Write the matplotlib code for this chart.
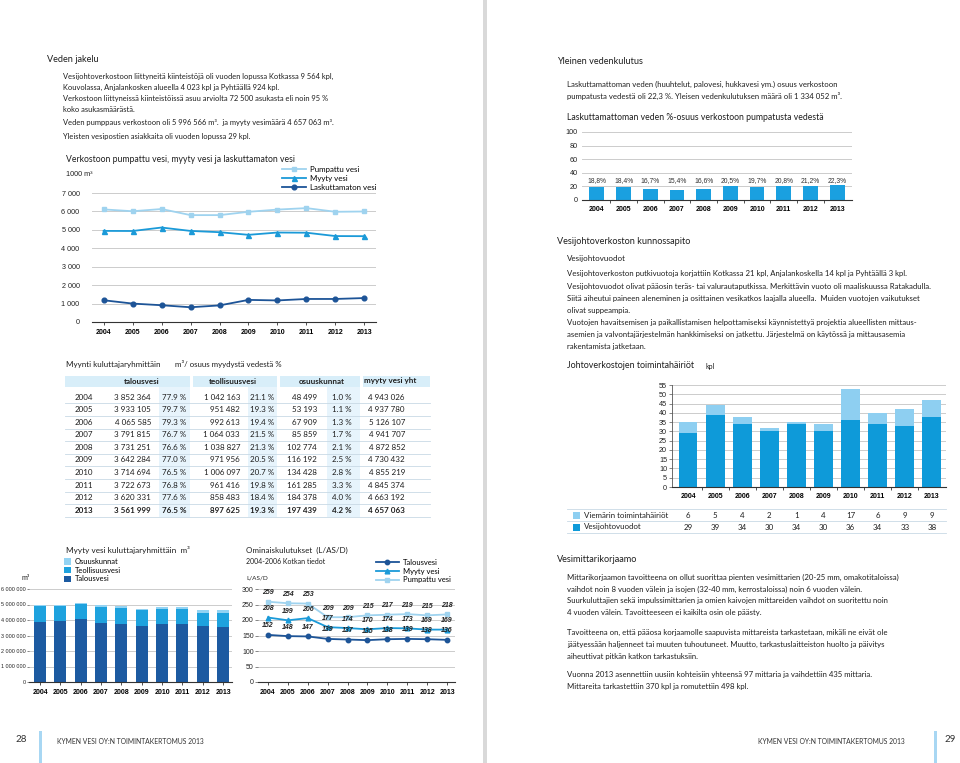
import matplotlib
matplotlib.use("Agg")
import matplotlib.pyplot as plt
import matplotlib.ticker as mticker
from matplotlib.patches import Rectangle

# ---- data ----
years = [2004, 2005, 2006, 2007, 2008, 2009, 2010, 2011, 2012, 2013]

# 1000 m3
pumpattu_vesi = [6110, 6010, 6130, 5800, 5800, 5980, 6100, 6180, 5980, 5997]
myyty_vesi = [4943, 4938, 5126, 4942, 4873, 4730, 4855, 4845, 4663, 4657]
laskuttamaton_vesi = [1180, 1000, 910, 800, 900, 1200, 1170, 1250, 1250, 1300]

# myynti kuluttajaryhmittäin, m3 and share %
talousvesi = [3852364, 3933105, 4065585, 3791815, 3731251, 3642284, 3714694, 3722673, 3620331, 3561999]
talousvesi_pct = [77.9, 79.7, 79.3, 76.7, 76.6, 77.0, 76.5, 76.8, 77.6, 76.5]
teollisuusvesi = [1042163, 951482, 992613, 1064033, 1038827, 971956, 1006097, 961416, 858483, 897625]
teollisuusvesi_pct = [21.1, 19.3, 19.4, 21.5, 21.3, 20.5, 20.7, 19.8, 18.4, 19.3]
osuuskunnat = [48499, 53193, 67909, 85859, 102774, 116192, 134428, 161285, 184378, 197439]
osuuskunnat_pct = [1.0, 1.1, 1.3, 1.7, 2.1, 2.5, 2.8, 3.3, 4.0, 4.2]
myyty_yht = [4943026, 4937780, 5126107, 4941707, 4872852, 4730432, 4855219, 4845374, 4663192, 4657063]

# ominaiskulutukset L/AS/D
om_talousvesi = [152, 148, 147, 139, 137, 135, 138, 139, 138, 136]
om_myyty = [208, 199, 206, 177, 174, 170, 174, 173, 169, 169]
om_pumpattu = [259, 254, 253, 209, 209, 215, 217, 219, 215, 218]

# laskuttamattoman veden osuus %
laskuttamaton_pct = [18.8, 18.4, 16.7, 15.4, 16.6, 20.5, 19.7, 20.8, 21.2, 22.3]

# toimintahäiriöt kpl
viemari_hairiot = [6, 5, 4, 2, 1, 4, 17, 6, 9, 9]
vesijohtovuodot = [29, 39, 34, 30, 34, 30, 36, 34, 33, 38]

# ---- style ----
W, H = 960, 763
BODY = "Lato"
NUM = "Liberation Sans"
INK = "#1e1e1e"
LIGHT = "#9fd3ef"
MID = "#1b9ad8"
DARK = "#1d5497"
GRID = "#cccccc"
BODY_SIZE = 5.6
TITLE_SIZE = 6.2
HEAD_SIZE = 6.6

fig = plt.figure(figsize=(W / 100, H / 100), dpi=100)
page = fig.add_axes([0, 0, 1, 1], zorder=0)
page.set_xlim(0, W)
page.set_ylim(H, 0)
page.axis("off")


def txt(x, y, s, size=BODY_SIZE, **kw):
    kw.setdefault("family", BODY)
    kw.setdefault("color", INK)
    kw.setdefault("ha", "left")
    page.text(x, y, s, fontsize=size, va="center", **kw)


def box(x0, y0, x1, y1):
    return [x0 / W, 1 - y1 / H, (x1 - x0) / W, (y1 - y0) / H]


def spaced(v):
    return f"{v:,}".replace(",", " ")


def chart(rect, zorder=2):
    ax = fig.add_axes(box(*rect), zorder=zorder)
    ax.patch.set_alpha(0)
    for s in ["top", "right", "left"]:
        ax.spines[s].set_visible(False)
    ax.spines["bottom"].set_color("#333333")
    ax.spines["bottom"].set_linewidth(0.8)
    ax.yaxis.grid(True, color=GRID, lw=0.7)
    ax.set_axisbelow(True)
    ax.set_xticks(years)
    ax.set_xticklabels([str(y) for y in years], family=NUM, fontweight="bold", fontsize=5)
    ax.tick_params(axis="x", length=2, width=0.6, color="#333333", pad=3)
    ax.tick_params(axis="y", length=0, labelsize=5.2, colors="#222222")
    for lab in ax.get_yticklabels():
        lab.set_family(NUM)
    return ax


space_fmt = mticker.FuncFormatter(lambda v, p: spaced(int(v)))

# page divider and footers
page.add_patch(Rectangle((483, 0), 4, H, color="#d9d9d9", lw=0))
page.add_patch(Rectangle((39, 731), 3, 32, color="#a8d7f3", lw=0))
page.add_patch(Rectangle((934, 731), 3, 32, color="#a8d7f3", lw=0))
txt(21, 740, "28", size=7, color="#333333", ha="center")
txt(950, 740, "29", size=7, color="#333333", ha="center")
txt(57, 741, "KYMEN VESI OY:N TOIMINTAKERTOMUS 2013", size=4.9, color="#333333")
txt(905, 741, "KYMEN VESI OY:N TOIMINTAKERTOMUS 2013", size=4.9, color="#333333", ha="right")

# ---- left page text ----
txt(47, 60, "Veden jakelu", size=HEAD_SIZE)
left_lines = [
    (76, "Vesijohtoverkostoon liittyneitä kiinteistöjä oli vuoden lopussa Kotkassa 9 564 kpl,"),
    (87, "Kouvolassa, Anjalankosken alueella 4 023 kpl ja Pyhtäällä 924 kpl."),
    (98, "Verkostoon liittyneissä kiinteistöissä asuu arviolta 72 500 asukasta eli noin 95 %"),
    (109, "koko asukasmäärästä."),
    (122, "Veden pumppaus verkostoon oli 5 996 566 m³.  ja myyty vesimäärä 4 657 063 m³."),
    (136, "Yleisten vesipostien asiakkaita oli vuoden lopussa 29 kpl."),
]
for y, s in left_lines:
    txt(63, y, s, size=5.4)

# ---- line chart: pumpattu / myyty / laskuttamaton ----
txt(66, 160, "Verkostoon pumpattu vesi, myyty vesi ja laskuttamaton vesi", size=TITLE_SIZE)
txt(66, 174, "1000 m³", size=5.2, family=NUM)
ax1 = chart((92, 193, 376, 322))
h1, = ax1.plot(years, pumpattu_vesi, color=LIGHT, marker="s", ms=3.2, lw=1.3, label="Pumpattu vesi")
h2, = ax1.plot(years, myyty_vesi, color=MID, marker="^", ms=3.6, lw=1.3, label="Myyty vesi")
h3, = ax1.plot(years, laskuttamaton_vesi, color=DARK, marker="o", ms=3.4, lw=1.3, label="Laskuttamaton vesi")
ax1.set_xlim(2003.6, 2013.4)
ax1.set_ylim(0, 7000)
ax1.set_yticks(range(0, 8000, 1000))
ax1.yaxis.set_major_formatter(space_fmt)
ax1.tick_params(axis="y", pad=9)
ax1.legend(handles=[h1, h2, h3], loc="upper left", bbox_to_anchor=(282 / W, 1 - 166 / H),
           bbox_transform=fig.transFigure, frameon=False, prop={"family": BODY, "size": 5.7},
           handlelength=3.0, handletextpad=0.6, labelspacing=0.25, borderpad=0, borderaxespad=0)

# ---- table ----
txt(66, 364, "Myynti kuluttajaryhmittäin", size=5.8)
txt(175, 364, "m³/ osuus myydystä vedestä %", size=5.7)
tx0, tx1 = 65, 430
row_h = 12.6
y_head = 381
y_first = 397
TS = 5.8
page.add_patch(Rectangle((tx0, y_head - 5.5), tx1 - tx0, 11, color="#d8eef9", lw=0))
for xa, xb in [(190, 193), (277, 280), (360, 363)]:
    page.add_patch(Rectangle((xa, y_head - 6), xb - xa, 12, color="white", lw=0))
table_bottom = y_first + row_h * (len(years) - 1) + row_h / 2
for xa, xb in [(159, 190), (248, 277), (327, 360)]:
    page.add_patch(Rectangle((xa, y_head + 5.5), xb - xa, table_bottom - y_head - 5.5,
                             color="#e7f4fc", lw=0))
for lab, xc in [("talousvesi", 142), ("teollisuusvesi", 233), ("osuuskunnat", 322), ("myyty vesi yht", 390)]:
    txt(xc, y_head, lab, size=TS, fontweight="bold", ha="center")
for i, yr in enumerate(years):
    y = y_first + i * row_h
    fw = "bold" if i == len(years) - 1 else "normal"
    txt(75, y, str(yr), size=TS, fontweight=fw)
    txt(151, y, spaced(talousvesi[i]), size=TS, fontweight=fw, ha="right")
    txt(186, y, f"{talousvesi_pct[i]:.1f} %", size=TS, fontweight=fw, ha="right")
    txt(240, y, spaced(teollisuusvesi[i]), size=TS, fontweight=fw, ha="right")
    txt(274, y, f"{teollisuusvesi_pct[i]:.1f} %", size=TS, fontweight=fw, ha="right")
    txt(317, y, spaced(osuuskunnat[i]), size=TS, fontweight=fw, ha="right")
    txt(352, y, f"{osuuskunnat_pct[i]:.1f} %", size=TS, fontweight=fw, ha="right")
    txt(405, y, spaced(myyty_yht[i]), size=TS, fontweight=fw, ha="right")
    page.plot([tx0, tx1], [y + row_h / 2, y + row_h / 2], color="#c9d9e5", lw=0.6)

# ---- stacked bars: myyty vesi kuluttajaryhmittäin ----
txt(66, 550, "Myyty vesi kuluttajaryhmittäin  m³", size=5.9)
txt(22, 578, "m³", size=5.2)
ax2 = chart((29, 589, 232, 682))
bottom_os = [a + b for a, b in zip(talousvesi, teollisuusvesi)]
b1 = ax2.bar(years, talousvesi, width=0.58, color="#1c5aa1", label="Talousvesi")
b2 = ax2.bar(years, teollisuusvesi, bottom=talousvesi, width=0.58, color="#1ea2de", label="Teollisuusvesi")
b3 = ax2.bar(years, osuuskunnat, bottom=bottom_os, width=0.58, color="#93d3f3", label="Osuuskunnat")
ax2.set_xlim(2003.46, 2013.44)
ax2.set_ylim(0, 6000000)
ax2.set_yticks(range(0, 7000000, 1000000))
ax2.yaxis.set_major_formatter(space_fmt)
ax2.tick_params(axis="y", length=1.5, width=0.5, color="#555555", labelsize=3.9, pad=0.8)
ax2.tick_params(axis="x", labelsize=5)
ax2.legend(handles=[b3, b2, b1], loc="upper left", bbox_to_anchor=(64 / W, 1 - 558 / H),
           bbox_transform=fig.transFigure, frameon=False, prop={"family": BODY, "size": 5.4},
           handlelength=0.9, handleheight=0.9, handletextpad=0.5, labelspacing=0.22,
           borderpad=0, borderaxespad=0)

# ---- ominaiskulutukset ----
txt(246, 550, "Ominaiskulutukset  (L/AS/D)", size=TITLE_SIZE - 0.4)
txt(246, 562, "2004-2006 Kotkan tiedot", size=5.0)
txt(246, 578, "L/AS/D", size=4.6)
ax3 = chart((258, 589, 455, 682))
o1, = ax3.plot(years, om_talousvesi, color=DARK, marker="o", ms=3.2, lw=1.3, label="Talousvesi")
o2, = ax3.plot(years, om_myyty, color=MID, marker="^", ms=3.4, lw=1.3, label="Myyty vesi")
o3, = ax3.plot(years, om_pumpattu, color=LIGHT, marker="s", ms=3.0, lw=1.3, label="Pumpattu vesi")
for series in [om_talousvesi, om_myyty, om_pumpattu]:
    for x, v in zip(years, series):
        ax3.annotate(str(v), (x, v), xytext=(0, 4), textcoords="offset points", ha="center",
                     va="bottom", fontsize=5.0, family=NUM, fontweight="bold", style="italic",
                     color="#222222")
ax3.set_xlim(2003.5, 2013.4)
ax3.set_ylim(0, 300)
ax3.set_yticks(range(0, 350, 50))
ax3.tick_params(axis="y", length=2, width=0.5, color="#555555", labelsize=5, pad=1)
ax3.legend(handles=[o1, o2, o3], loc="upper left", bbox_to_anchor=(376 / W, 1 - 559 / H),
           bbox_transform=fig.transFigure, frameon=False, prop={"family": BODY, "size": 5.5},
           handlelength=3.0, handletextpad=0.5, labelspacing=0.22, borderpad=0, borderaxespad=0)

# ---- right page text ----
txt(557, 62, "Yleinen vedenkulutus", size=HEAD_SIZE)
txt(567, 84, "Laskuttamattoman veden (huuhtelut, palovesi, hukkavesi ym.) osuus verkostoon")
txt(567, 96, "pumpatusta vedestä oli 22,3 %. Yleisen vedenkulutuksen määrä oli 1 334 052 m³.")
txt(567, 118, "Laskuttamattoman veden %-osuus verkostoon pumpatusta vedestä", size=TITLE_SIZE)

ax4 = chart((582, 132, 852, 200))
ax4.bar(years, laskuttamaton_pct, width=0.56, color="#1aa0e0")
for x, v in zip(years, laskuttamaton_pct):
    ax4.text(x, 28, f"{v:.1f}%".replace(".", ","), ha="center", va="center", fontsize=4.9,
             family=NUM, color="#333333")
ax4.set_xlim(2003.44, 2013.56)
ax4.set_ylim(0, 100)
ax4.set_yticks(range(0, 120, 20))
ax4.set_xticks([y + 0.5 for y in years[:-1]], minor=True)
ax4.tick_params(axis="x", which="major", length=0, pad=4)
ax4.tick_params(axis="x", which="minor", length=2.5, width=0.6, color="#333333")
ax4.tick_params(axis="y", labelsize=5.2, pad=3)

txt(557, 241, "Vesijohtoverkoston kunnossapito", size=HEAD_SIZE)
txt(567, 259, "Vesijohtovuodot", size=5.8)
right_lines = [
    (273, "Vesijohtoverkoston putkivuotoja korjattiin Kotkassa 21 kpl, Anjalankoskella 14 kpl ja Pyhtäällä 3 kpl."),
    (286, "Vesijohtovuodot olivat pääosin teräs- tai valurautaputkissa. Merkittävin vuoto oli maaliskuussa Ratakadulla."),
    (298, "Siitä aiheutui paineen aleneminen ja osittainen vesikatkos laajalla alueella.  Muiden vuotojen vaikutukset"),
    (310, "olivat suppeampia."),
    (323, "Vuotojen havaitsemisen ja paikallistamisen helpottamiseksi käynnistettyä projektia alueellisten mittaus-"),
    (335, "asemien ja valvontajärjestelmän hankkimiseksi on jatkettu. Järjestelmä on käytössä ja mittausasemia"),
    (347, "rakentamista jatketaan."),
]
for y, s in right_lines:
    txt(567, y, s)
txt(567, 366, "Johtoverkostojen toimintahäiriöt", size=6.4)
txt(705, 367, "kpl", size=5.0)

ax5 = chart((672, 385, 946, 487))
v1 = ax5.bar(years, vesijohtovuodot, width=0.7, color="#0e9ad9")
v2 = ax5.bar(years, viemari_hairiot, bottom=vesijohtovuodot, width=0.7, color="#8ecff1")
ax5.set_xlim(2003.41, 2013.52)
ax5.set_ylim(0, 55)
ax5.set_yticks(range(0, 60, 5))
ax5.spines["left"].set_visible(True)
ax5.spines["left"].set_color("#555555")
ax5.spines["left"].set_linewidth(0.6)
ax5.tick_params(axis="y", length=2, width=0.5, color="#555555", labelsize=5.2, pad=1.5)
ax5.set_xticks([y + 0.5 for y in years[:-1]], minor=True)
ax5.tick_params(axis="x", which="major", length=0, pad=4)
ax5.tick_params(axis="x", which="minor", length=2.5, width=0.6, color="#333333")

# data table under the bars
year_px = [688 + (932 - 688) * i / 9 for i in range(len(years))]
for yline in [509, 521, 533]:
    page.plot([567, 946], [yline, yline], color="#c9d9e5", lw=0.6)
for yrow, name, vals, col in [(515, "Viemärin toimintahäiriöt", viemari_hairiot, "#8ecff1"),
                              (527, "Vesijohtovuodot", vesijohtovuodot, "#0e9ad9")]:
    page.add_patch(Rectangle((573, yrow - 3.5), 7, 7, color=col, lw=0))
    txt(584, yrow, name, size=5.7)
    for xc, v in zip(year_px, vals):
        txt(xc, yrow, str(v), size=5.7, ha="center")

txt(557, 560, "Vesimittarikorjaamo", size=HEAD_SIZE)
meter_lines = [
    (577, "Mittarikorjaamon tavoitteena on ollut suorittaa pienten vesimittarien (20-25 mm, omakotitaloissa)"),
    (589, "vaihdot noin 8 vuoden välein ja isojen (32-40 mm, kerrostaloissa) noin 6 vuoden välein."),
    (601, "Suurkuluttajien sekä impulssimittarien ja omien kaivojen mittareiden vaihdot on suoritettu noin"),
    (613, "4 vuoden välein. Tavoitteeseen ei kaikilta osin ole päästy."),
    (632, "Tavoitteena on, että pääosa korjaamolle saapuvista mittareista tarkastetaan, mikäli ne eivät ole"),
    (644, "jäätyessään haljenneet tai muuten tuhoutuneet. Muutto, tarkastuslaitteiston huolto ja päivitys"),
    (656, "aiheuttivat pitkän katkon tarkastuksiin."),
    (675, "Vuonna 2013 asennettiin uusiin kohteisiin yhteensä 97 mittaria ja vaihdettiin 435 mittaria."),
    (687, "Mittareita tarkastettiin 370 kpl ja romutettiin 498 kpl."),
]
for y, s in meter_lines:
    txt(567, y, s)

fig.savefig("out.png", dpi=100)
